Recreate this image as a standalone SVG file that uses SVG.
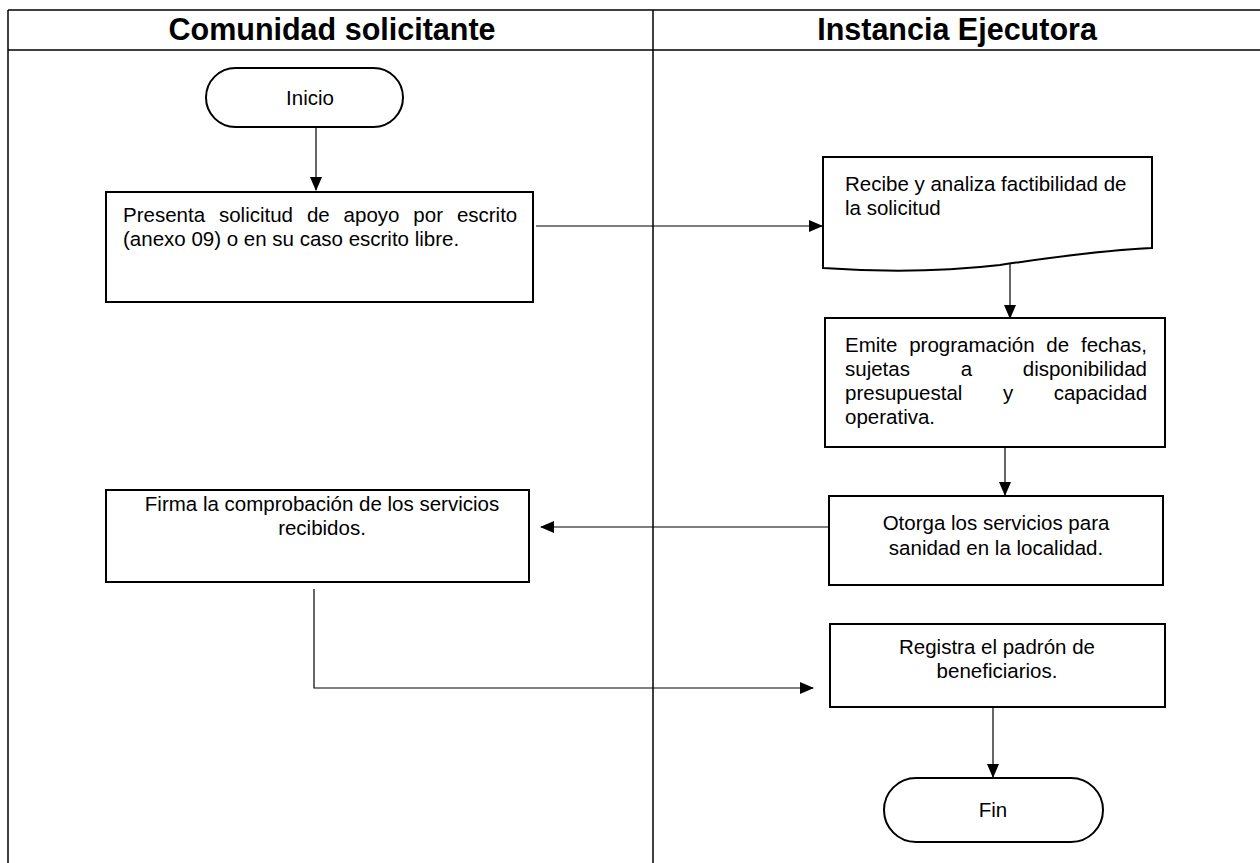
<svg xmlns="http://www.w3.org/2000/svg" width="1260" height="863" viewBox="0 0 1260 863">
<defs>
<style>
.lane{stroke:#000;stroke-width:1.5;fill:none}
.box{fill:#fff;stroke:#000;stroke-width:2}
.con{fill:none;stroke:#000;stroke-width:1.2}
.hd{font-family:"Liberation Sans",Arial,sans-serif;font-weight:bold;font-size:30.5px;fill:#000;text-anchor:middle}
.t{font-family:"Liberation Sans",Arial,sans-serif;font-size:20.5px;fill:#000}
.c{text-anchor:middle}
</style>
<marker id="ah" markerUnits="userSpaceOnUse" markerWidth="14" markerHeight="12" refX="13" refY="6" orient="auto">
<path d="M0,0 L14,6 L0,12 Z" fill="#000"/>
</marker>
</defs>
<rect width="1260" height="863" fill="#fff"/>
<g id="lanes">
<line class="lane" x1="8" y1="10" x2="1260" y2="10"/>
<line class="lane" x1="8" y1="50" x2="1260" y2="50"/>
<line class="lane" x1="8" y1="10" x2="8" y2="863"/>
<line class="lane" x1="653" y1="10" x2="653" y2="863" stroke-width="1"/>
<text class="hd" x="332" y="40">Comunidad solicitante</text>
<text class="hd" x="957" y="40">Instancia Ejecutora</text>
</g>
<g id="connectors">
<line class="con" x1="316" y1="127" x2="316" y2="190" marker-end="url(#ah)"/>
<line class="con" x1="536" y1="226" x2="822" y2="226" marker-end="url(#ah)"/>
<line class="con" x1="1010" y1="263" x2="1010" y2="318" marker-end="url(#ah)"/>
<line class="con" x1="1005" y1="447" x2="1005" y2="495" marker-end="url(#ah)"/>
<line class="con" x1="829" y1="527" x2="541" y2="527" marker-end="url(#ah)"/>
<polyline class="con" points="314,589 314,688 813,688" marker-end="url(#ah)"/>
<line class="con" x1="993" y1="707" x2="993" y2="777" marker-end="url(#ah)"/>
</g>
<g id="inicio">
<rect class="box" x="206" y="68" width="197" height="59" rx="29.5"/>
<text class="t c" x="310" y="105">Inicio</text>
</g>
<g id="presenta">
<rect class="box" x="106" y="192" width="427" height="110"/>
<text class="t" x="123" y="222" word-spacing="8.2">Presenta solicitud de apoyo por escrito</text>
<text class="t" x="123" y="246">(anexo 09) o en su caso escrito libre.</text>
</g>
<g id="recibe">
<path class="box" d="M823,157 H1152 V248 C1110,250 1060,256 1000,265 C940,272 880,272 823,268 Z"/>
<text class="t" x="845" y="191">Recibe y analiza factibilidad de</text>
<text class="t" x="845" y="215">la solicitud</text>
</g>
<g id="emite">
<rect class="box" x="825" y="318" width="340" height="129"/>
<text class="t" x="845" y="352" word-spacing="6.1">Emite programación de fechas,</text>
<text class="t" x="845" y="376" word-spacing="45">sujetas a disponibilidad</text>
<text class="t" x="845" y="400" word-spacing="34.8">presupuestal y capacidad</text>
<text class="t" x="845" y="424">operativa.</text>
</g>
<g id="otorga">
<rect class="box" x="829" y="496" width="334" height="89"/>
<text class="t c" x="996" y="530">Otorga los servicios para</text>
<text class="t c" x="996" y="555">sanidad en la localidad.</text>
</g>
<g id="firma">
<rect class="box" x="106" y="490" width="423" height="92"/>
<text class="t c" x="322" y="511">Firma la comprobación de los servicios</text>
<text class="t c" x="322" y="535">recibidos.</text>
</g>
<g id="registra">
<rect class="box" x="830" y="624" width="335" height="83"/>
<text class="t c" x="997" y="654">Registra el padrón de</text>
<text class="t c" x="997" y="678">beneficiarios.</text>
</g>
<g id="fin">
<rect class="box" x="884" y="778" width="219" height="64" rx="32"/>
<text class="t c" x="993" y="817">Fin</text>
</g>
</svg>
